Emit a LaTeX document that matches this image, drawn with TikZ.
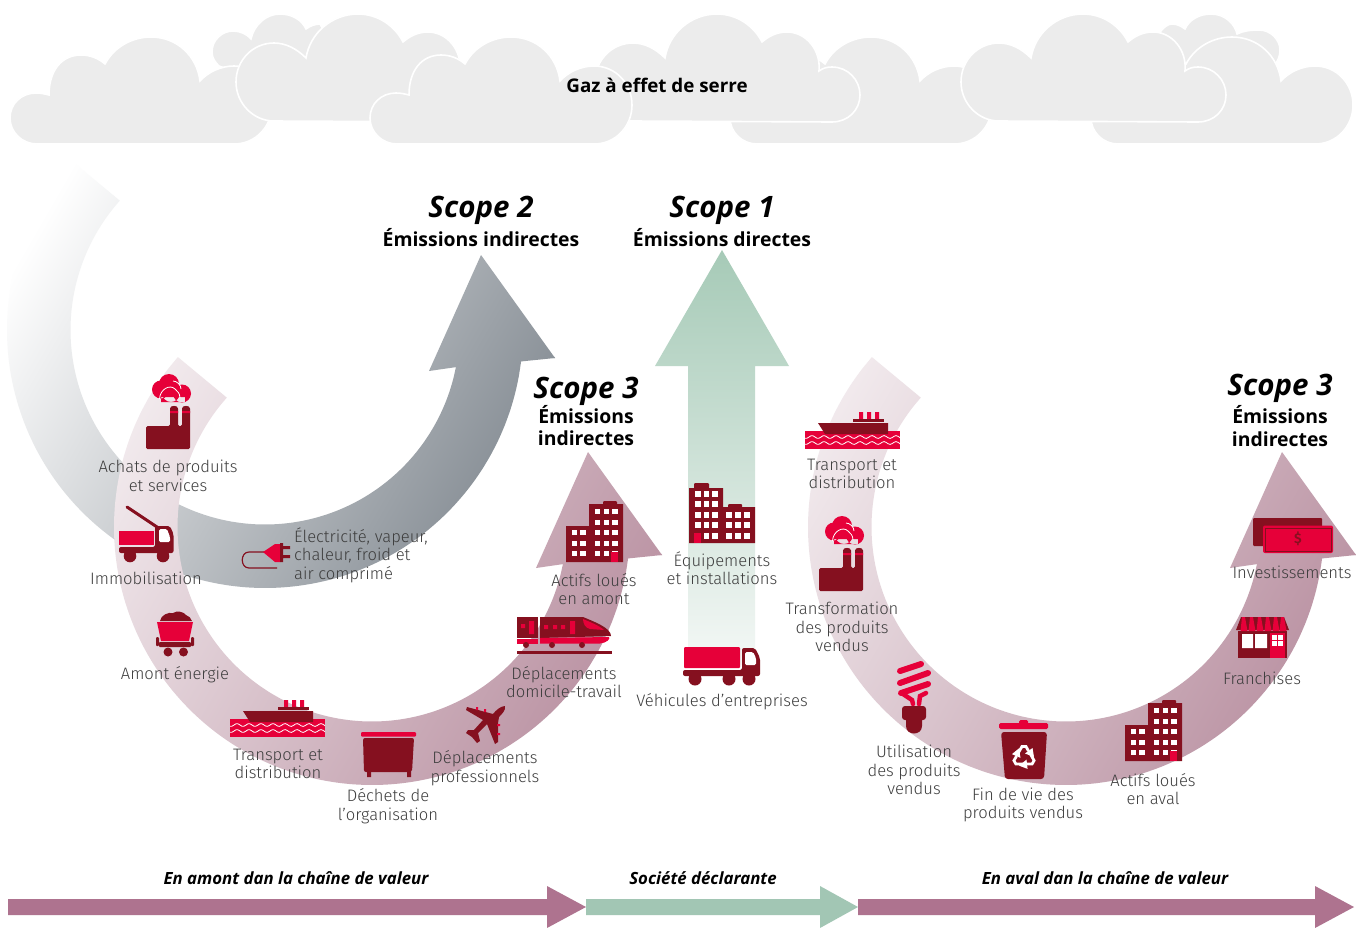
\documentclass[tikz,border=0pt]{standalone}
\usepackage{fontspec}
\setmainfont{Fira Sans}[UprightFont=* Light,BoldFont=* SemiBold,ItalicFont=* Light Italic,BoldItalicFont=* Bold Italic]
\newfontfamily\headfont{Open Sans}
\definecolor{dk}{HTML}{85101F}
\definecolor{rd}{HTML}{E60039}
\definecolor{cld}{HTML}{ECECEC}
\definecolor{txt}{HTML}{3E3E3E}
\definecolor{purp}{HTML}{AE738F}
\definecolor{grn}{HTML}{A2C6B4}
\definecolor{greyB}{HTML}{8B9299}
\definecolor{purA}{HTML}{F6F1F3}
\definecolor{purB}{HTML}{BC95A5}
\definecolor{grnT}{HTML}{A6CAB7}
\definecolor{grnB}{HTML}{F4F8F6}
\tikzset{
  lbl/.style={align=center,text=txt,font=\fontsize{16.6}{18.5}\selectfont,inner sep=0pt},
  ttl/.style={align=center,text=black,font=\headfont\fontsize{29.5}{32}\selectfont\bfseries\itshape,inner sep=0pt},
  sub/.style={align=center,text=black,font=\headfont\fontsize{19.4}{22.5}\selectfont\bfseries,inner sep=0pt},
  bar/.style={align=center,text=black,font=\headfont\fontsize{16.8}{18}\selectfont\bfseries\itshape,inner sep=0pt},
  cloudfill/.style={fill=cld,draw=white,line width=1.6pt},
}
% clouds
\newcommand{\cloudA}[1]{\path[cloudfill,shift={(#1,0)}] (37,144) .. controls (22,144) and (10,132) .. (10,118) .. controls (10,104) and (21,93) .. (36,93) .. controls (41,93) and (45,94) .. (49,95) .. controls (49,70) and (62,55) .. (81,55) .. controls (90,55) and (98,58) .. (105,64) .. controls (114,47) and (132,37) .. (151,37) .. controls (177,37) and (197,56) .. (200,81) .. controls (208,72) and (221,66) .. (234,66) .. controls (256,66) and (272,84) .. (272,105) .. controls (272,126) and (256,144) .. (234,144) -- cycle;}
\newcommand{\cloudB}[1]{\path[cloudfill,shift={(#1,0)}] (274,121) .. controls (253,121) and (236,103) .. (236,82) .. controls (236,60) and (253,43) .. (274,43) .. controls (286,43) and (297,49) .. (306,58) .. controls (310,33) and (332,14) .. (358,14) .. controls (378,14) and (395,26) .. (403,42) .. controls (410,36) and (418,32) .. (428,32) .. controls (447,32) and (462,50) .. (460,71) .. controls (464,68) and (468,67) .. (473,67) .. controls (489,67) and (501,80) .. (501,95) .. controls (501,110) and (489,122) .. (473,122) -- cycle;}
% big arrow outline in local coordinates
\newcommand{\arrowshape}{plot[smooth,variable=\t,domain=221.2:7,samples=60] ({265+258*cos(\t)},{330+258*sin(\t)}) -- (555,358) -- (481,255) -- (429,371) -- plot[smooth,variable=\t,domain=11:221.7,samples=60] ({265+194.5*cos(\t)},{330+194.5*sin(\t)}) -- cycle}
\newcommand{\gradarrow}[5]{%
  \begin{scope}
    \clip[shift={(#1,#2)}] \arrowshape;
    \begin{scope}[transform canvas={shift={({#5*0.866+#1},{#5*0.5+#2})},rotate=-30}]
      \fill[#3] (-3000,-3000) rectangle (2,3000);
      \fill[#4] ({658-#5},-3000) rectangle (3000,3000);
      \shade[left color=#3,right color=#4] (0,-3000) rectangle ({660-#5},3000);
    \end{scope}
  \end{scope}}
% icons
\newcommand{\factoryicon}[2]{\begin{scope}[shift={(#1,#2)}]
  \fill[dk,rounded corners=1.5pt] (146,449) -- (146,426) -- (170,426) -- (170,410) .. controls (170,405) and (178,405) .. (178,410) -- (178,426) -- (182,426) -- (182,410) .. controls (182,405) and (190,405) .. (190,410) -- (190,449) -- cycle;
  \fill[rd] (170,411) rectangle (178,413) (182,411) rectangle (190,413);
  \fill[rd] (161,389.5) circle (9) (169,384) circle (10) (182,393.5) circle (9) (171,393) circle (9) (161,397) rectangle (185,402);
  \draw[white,line width=.8pt] (159.5,399) .. controls (160,389) and (170,384) .. (175,389) .. controls (177,391) and (180,393) .. (180,398) (173,381) .. controls (177,381) and (181,385) .. (181,389);
\end{scope}}
\newcommand{\shipicon}[2]{\begin{scope}[shift={(#1,#2)}]
  \fill[rd] (284,700) rectangle (288,708) (292,700) rectangle (296,708) (300,700) rectangle (304,708);
  \fill[dk] (278,707) rectangle (309,710);
  \fill[rd] (230,719) rectangle (325,737);
  \fill[dk] (243,711) -- (313,711) -- (313,722) -- (250,722) -- cycle;
  \foreach \yy in {725,731}{\draw[white,line width=.8pt] plot[smooth,variable=\q,domain=230:325,samples=49] (\q,{\yy+1.4*sin(\q*30)});}
\end{scope}}
\newcommand{\buildingA}[2]{\begin{scope}[shift={(#1,#2)}]
  \fill[dk] (566,526) rectangle (589,562) (589,504) rectangle (623,562);
  \fill[dk,rounded corners=1pt] (603,501) rectangle (617,506);
  \foreach \yy in {509,520,530,541,551}{\foreach \xx in {594.5,603.5,612}{\fill[white] (\xx,\yy) rectangle ++(5.5,5);}}
  \foreach \yy in {530,541,551}{\foreach \xx in {571.5,580}{\fill[white] (\xx,\yy) rectangle ++(5.5,5);}}
  \fill[rd] (611,552) rectangle (618,562);
\end{scope}}
\begin{document}
\begin{tikzpicture}[x=1pt,y=-1pt]
\useasboundingbox (0,0) rectangle (1357,927);
\fill[white] (0,0) rectangle (1357,927);
% back clouds
\path[cloudfill] (219,66) .. controls (215,62) and (212,58) .. (212,52) .. controls (212,40) and (222,31) .. (233,31) .. controls (240,31) and (247,34) .. (251,39) .. controls (254,25) and (266,14) .. (280,14) .. controls (292,14) and (302,20) .. (306,29) .. controls (310,26) and (315,24) .. (320,24) -- (340,60) -- (260,80) -- cycle;
\path[cloudfill] (1160,32) .. controls (1164,27) and (1168,24) .. (1172,24) .. controls (1177,24) and (1181,26) .. (1185,29) .. controls (1189,20) and (1199,14) .. (1211,14) .. controls (1225,14) and (1235,24) .. (1237,34) .. controls (1243,31) and (1250,30) .. (1259,30) .. controls (1271,30) and (1280,40) .. (1280,50) .. controls (1280,56) and (1278,60) .. (1276,63) -- (1200,90) -- cycle;
\cloudA{0}
\cloudB{0}
\cloudA{720}
\cloudB{359}
\cloudA{360}
\cloudA{1081}
\cloudB{725}
\node[inner sep=0pt,font=\headfont\fontsize{18.8}{20}\selectfont\bfseries,text=black] (gaz) at (657,85) {Gaz à effet de serre};
% big arrows
\gradarrow{0}{0}{white}{greyB}{145}
\gradarrow{107}{197}{purA}{purB}{90}
\gradarrow{801}{197}{purA}{purB}{90}
% green arrow
\begin{scope}
  \clip (722,250) -- (789,366) -- (755,366) -- (755,665) -- (688,665) -- (688,366) -- (655,366) -- cycle;
  \shade[top color=grnT,bottom color=grnB] (640,250) rectangle (800,665);
\end{scope}
% bottom arrows
\fill[purp] (8,899) -- (547,899) -- (547,886) -- (586,907) -- (547,928) -- (547,915) -- (8,915) -- cycle;
\fill[grn] (586,899) -- (820,899) -- (820,886) -- (858,907) -- (820,928) -- (820,915) -- (586,915) -- cycle;
\fill[purp] (858,899) -- (1315,899) -- (1315,886) -- (1354,907) -- (1315,928) -- (1315,915) -- (858,915) -- cycle;
% icons
\factoryicon{0}{0}
\factoryicon{673}{142}
\shipicon{0}{0}
\shipicon{575}{-288}
\buildingA{0}{0}
\buildingA{559}{199}
% crane truck
\draw[dk,line width=3pt,line cap=round] (127,507) -- (163,531);
\fill[dk,rounded corners=2pt] (155,526) -- (170,526) -- (173.5,534) -- (173.5,553) -- (119,553) -- (119,547) -- (155,547) -- cycle;
\fill[rd] (119,531) rectangle (154,545);
\fill[white,rounded corners=1.5pt] (159,529) -- (167,529) -- (170,537) -- (170,542) -- (159,542) -- cycle;
\fill[dk] (130,556) circle (6.3) (163,556) circle (6.3);
% mine cart
\fill[dk] (160,621) .. controls (161,615) and (168,612) .. (173,613) .. controls (177,610) and (184,612) .. (186,615) .. controls (189,616) and (191,618) .. (192,621) -- cycle;
\fill[rd] (157,622) -- (193,622) -- (189,641) -- (161,641) -- cycle;
\fill[dk,rounded corners=1pt] (156,637) rectangle (159,646) (191,637) rectangle (194,646) (159,642) rectangle (191,647);
\fill[dk] (168,652) circle (4.5) (183.5,652) circle (4.5);
% bin
\fill[rd,rounded corners=1pt] (361,732) rectangle (416,736.5);
\fill[dk,rounded corners=2pt] (363,738) -- (414,738) -- (412,772) -- (364,772) -- cycle;
\fill[dk] (367,771) rectangle (371,777) (407,771) rectangle (411,777);
% plane
\fill[dk] (505,706) .. controls (506,710) and (502,714) .. (499,717) -- (498,723) -- (498,742) -- (495,744) -- (487,724) -- (478,733) -- (480,741) -- (477,743) -- (472,737) -- (466,733) -- (468,730) -- (474,730) -- (483,720) -- (466,710) -- (467,707) -- (493,714) .. controls (496,710) and (501,706) .. (505,706) -- cycle;
\fill[rd] (484,709) rectangle (486,712) (476,707) rectangle (478,710) (497,724) rectangle (500,726) (497,733) rectangle (500,735);
% train
\fill[dk] (517,617) rectangle (538,638);
\fill[rd] (517,638.5) rectangle (538,643.5);
\fill[dk] (540,617) -- (583,617) .. controls (595,622) and (611,628) .. (611,636) -- (540,638) -- cycle;
\fill[rd] (540,638) -- (609,637) .. controls (611,639) and (606,643) .. (600,643.5) -- (540,643.5) -- cycle;
\fill[rd] (583,619) .. controls (590,622) and (600,626) .. (604,630) -- (590,629) .. controls (585,628) and (583,623) .. (583,619) -- cycle;
\fill[rd] (521,624) rectangle (525,628) (529,621) rectangle (534,634) (544,625) rectangle (548,629) (553,625) rectangle (557,629) (561,625) rectangle (565,629) (570,621) rectangle (575,634);
\fill[dk] (526,645) circle (3) (552,645) circle (3) (582,645) circle (3);
\fill[dk] (517,651) rectangle (612,654);
% plug
\draw[dk,line width=1.2pt] (277,568) -- (249,568) .. controls (240,568) and (240,552) .. (249,552) -- (264,552);
\fill[rd] (263,552) -- (275,544) -- (280,544) -- (280,562) -- (275,562) -- cycle;
\fill[dk] (280,543) rectangle (283,562) (283,546) rectangle (290,549) (283,555) rectangle (290,558);
% Equipements building
\fill[dk] (689,488) rectangle (723,543) (723,507) rectangle (755,543);
\fill[dk,rounded corners=1pt] (694,483) rectangle (709,490) (728,504) rectangle (742,509);
\foreach \yy in {491,501,512,522,533}{\foreach \xx in {695,703.5,712}{\fill[white] (\xx,\yy) rectangle ++(5.5,5.5);}}
\foreach \yy in {512,522,533}{\foreach \xx in {726,735,744}{\fill[white] (\xx,\yy) rectangle ++(5.5,5.5);}}
\fill[rd] (694,533) rectangle (701,543);
% company truck
\fill[rd,rounded corners=1pt] (684,647) rectangle (740,668);
\fill[dk,rounded corners=2pt] (742,648) -- (755,648) -- (760,658) -- (760,676) -- (683,676) -- (683,670) -- (742,670) -- cycle;
\fill[white,rounded corners=1.5pt] (745,652) -- (753,652) -- (756,658) -- (756,665) -- (745,665) -- cycle;
\fill[dk] (695,679) circle (6.5) (729,679) circle (6.5) (749,679) circle (6.5);
% bulb
\draw[rd,line width=6pt,line cap=round] (900,671) -- (921,664) (900,683) -- (928,673) (901,693) -- (928,684);
\draw[rd,line width=4.5pt,line cap=round] (903,694) -- (912,700) -- (913,704) (926,693) -- (920,696) -- (919,704);
\fill[dk,rounded corners=3pt] (902,706) rectangle (926,720);
\fill[dk] (906,716) -- (922,716) -- (922,726) .. controls (922,736) and (906,736) .. (906,726) -- cycle;
% recycle bin
\fill[rd,rounded corners=1.5pt] (999,723) rectangle (1048,729);
\fill[rd,rounded corners=1.5pt] (1019,720) rectangle (1028,725);
\fill[dk,rounded corners=3pt] (1001,732) -- (1047,732) -- (1044,779) -- (1005,779) -- cycle;
\foreach \ang in {0,120,240}{\begin{scope}[rotate around={\ang:(1024,757)}]
  \draw[white,line width=2.8pt] (1017,755) -- (1022,746.5) -- (1026,746.5) -- (1028.5,751);
  \fill[white] (1025,753.5) -- (1032.5,748) -- (1034,757) -- cycle;
\end{scope}}
% money
\fill[dk,rounded corners=1pt] (1253,518) rectangle (1322,546);
\fill[rd,rounded corners=2pt] (1263,525.5) rectangle (1333,553);
\draw[dk,line width=.5pt] (1265,528) rectangle (1331,551);
\node[inner sep=0pt,text=dk,font=\fontsize{14}{14}\selectfont\bfseries] (dollar) at (1298,539) {\$};
% shop
\fill[dk] (1238,631) rectangle (1287,658);
\fill[dk] (1241,617) -- (1284,617) -- (1289,630) -- (1236,630) -- cycle;
\foreach \xx in {1242,1250,1258,1266,1274,1281}{\fill[rd] (\xx,617) -- ++(3,0) -- ++(2.5,14) -- ++(-7,0) -- cycle;}
\fill[white] (1242,634) rectangle (1253,648) (1255,634) rectangle (1267,648);
\fill[rd] (1270,633) rectangle (1285,658);
\fill[white] (1272,635) rectangle (1283,646);
\draw[rd,line width=.8pt] (1277.5,635) -- (1277.5,646) (1272,640.5) -- (1283,640.5);
% titles
\node[ttl] (s2) at (481,210) {Scope 2};
\node[sub] (s2b) at (481,238) {Émissions indirectes};
\node[ttl] (s1) at (722,210) {Scope 1};
\node[sub] (s1b) at (722,238) {Émissions directes};
\node[ttl] (s3a) at (586,391) {Scope 3};
\node[sub] (s3ab) at (586,425.5) {Émissions\\indirectes};
\node[ttl] (s3c) at (1280,388) {Scope 3};
\node[sub] (s3cb) at (1280,426) {Émissions\\indirectes};
% labels
\node[lbl] (l1) at (168,476) {Achats de produits\\et services};
\node[lbl] (l2) at (146,578) {Immobilisation};
\node[lbl] (l3) at (175,675) {Amont énergie};
\node[lbl] (l4) at (278,764) {Transport et\\distribution};
\node[lbl] (l5) at (388,806) {Déchets de\\l’organisation};
\node[lbl] (l6) at (485,768) {Déplacements\\professionnels};
\node[lbl] (l7) at (564,682) {Déplacements\\domicile-travail};
\node[lbl] (l8) at (594,589) {Actifs loués\\en amont};
\node[lbl,align=left,anchor=west] (l9) at (294,555) {Électricité, vapeur,\\chaleur, froid et\\air comprimé};
\node[lbl] (l10) at (722,568) {Équipements\\et installations};
\node[lbl] (l11) at (722,702) {Véhicules d’entreprises};
\node[lbl] (l12) at (852,474) {Transport et\\distribution};
\node[lbl] (l13) at (842,627) {Transformation\\des produits\\vendus};
\node[lbl] (l14) at (914,770) {Utilisation\\des produits\\vendus};
\node[lbl] (l15) at (1023,805) {Fin de vie des\\produits vendus};
\node[lbl] (l16) at (1153,789) {Actifs loués\\en aval};
\node[lbl] (l17) at (1262,678) {Franchises};
\node[lbl] (l18) at (1292,572) {Investissements};
% bar labels
\node[bar] (b1) at (296,878.5) {En amont dan la chaîne de valeur};
\node[bar] (b2) at (703,878.5) {Société déclarante};
\node[bar] (b3) at (1105,878.5) {En aval dan la chaîne de valeur};
\end{tikzpicture}
\end{document}
